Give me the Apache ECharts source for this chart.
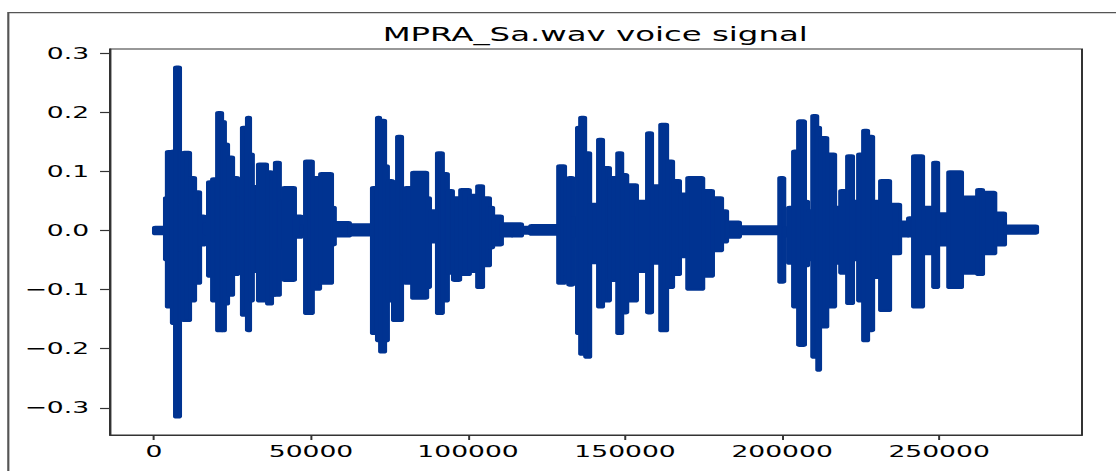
<!DOCTYPE html>
<html><head><meta charset="utf-8">
<script src="https://cdn.jsdelivr.net/npm/echarts@6/dist/echarts.min.js"></script>
<style>
html,body{margin:0;padding:0;background:#fff;overflow:hidden;width:1116px;height:471px}
#chart{width:672px;height:471px;transform:scaleX(1.660714);transform-origin:0 0;}
</style></head><body><div id="chart"></div>
<script>
const chartTitle = 'MPRA_Sa.wav voice signal';
const xTicks = [0, 50000, 100000, 150000, 200000, 250000];
const yTicks = [-0.3, -0.2, -0.1, 0, 0.1, 0.2, 0.3];
// envelope segment boundaries (sample index)
const bounds = [0,3500,4100,5700,6700,8300,9200,11500,13100,14700,16200,17200,18500,20100,21700,22600,23600,25200,26800,28000,29600,30600,31500,33100,36000,37600,38500,40100,41100,44900,47100,48100,50600,52900,56700,57600,62400,69400,71000,72000,73600,74500,76100,77400,79000,79900,82200,87000,87900,90100,92000,93600,95200,97500,100600,102900,104800,107000,108000,110800,114000,117200,119800,128700,130900,131900,133500,134700,135700,137300,138900,141400,143000,145200,147500,149100,150700,153800,157000,158600,161200,163400,165300,167500,169800,174900,178000,180900,182500,186600,199100,200700,201900,203500,205100,207300,208300,209600,211200,212100,214400,216900,218500,220700,222600,224200,225800,227400,229000,231200,234400,237600,240100,241700,244900,248100,249700,252900,257300,262100,264000,267900,271000,281200];
// upper envelope (max amplitude) per segment
const upper = [0.006,0.056,0.134,0.135,0.277,0.045,0.133,0.09,0.066,0.025,0.012,0.083,0.088,0.2,0.185,0.147,0.125,0.09,0.056,0.175,0.192,0.13,0.075,0.113,0.1,0.085,0.116,0.05,0.073,0.025,0.008,0.118,0.09,0.097,0.04,0.014,0.01,0.073,0.192,0.187,0.11,0.085,0.083,0.16,0.034,0.073,0.099,0.056,0.034,0.132,0.097,0.068,0.056,0.07,0.06,0.076,0.056,0.04,0.025,0.012,0.012,0.006,0.009,0.11,0.085,0.09,0.022,0.175,0.192,0.132,0.045,0.155,0.107,0.09,0.132,0.095,0.078,0.05,0.166,0.076,0.18,0.118,0.085,0.062,0.09,0.068,0.056,0.034,0.015,0.007,0.09,0.005,0.04,0.135,0.186,0.05,0.034,0.195,0.175,0.158,0.13,0.04,0.068,0.127,0.05,0.13,0.17,0.16,0.05,0.085,0.045,0.015,0.022,0.127,0.04,0.116,0.029,0.1,0.057,0.07,0.065,0.03,0.008];
// lower envelope (min amplitude) per segment
const lower = [-0.006,-0.05,-0.13,-0.158,-0.316,-0.034,-0.153,-0.12,-0.09,-0.025,-0.006,-0.078,-0.12,-0.17,-0.17,-0.125,-0.11,-0.075,-0.07,-0.144,-0.17,-0.12,-0.07,-0.12,-0.125,-0.11,-0.11,-0.03,-0.085,-0.012,-0.006,-0.141,-0.1,-0.09,-0.025,-0.01,-0.008,-0.175,-0.187,-0.206,-0.187,-0.12,-0.153,-0.153,-0.04,-0.09,-0.115,-0.097,-0.02,-0.141,-0.12,-0.073,-0.085,-0.075,-0.07,-0.097,-0.06,-0.03,-0.025,-0.01,-0.01,-0.005,-0.007,-0.09,-0.075,-0.093,-0.01,-0.175,-0.21,-0.215,-0.055,-0.13,-0.12,-0.085,-0.175,-0.14,-0.12,-0.07,-0.14,-0.056,-0.17,-0.097,-0.075,-0.045,-0.1,-0.078,-0.035,-0.02,-0.012,-0.006,-0.088,-0.01,-0.056,-0.13,-0.195,-0.06,-0.05,-0.215,-0.237,-0.164,-0.13,-0.056,-0.073,-0.124,-0.05,-0.12,-0.187,-0.17,-0.08,-0.136,-0.04,-0.01,-0.01,-0.13,-0.04,-0.097,-0.025,-0.097,-0.073,-0.075,-0.04,-0.025,-0.005];

const segData = upper.map((u, i) => [bounds[i], bounds[i + 1], u, lower[i]]);
const color = '#003391';
const font = 'DejaVu Sans';
const chart = echarts.init(document.getElementById('chart'), null, {renderer: 'svg'});
chart.setOption({
  animation: false,
  backgroundColor: '#fff',
  title: {
    text: chartTitle, left: 358.4, top: 24.5, textAlign: 'center', padding: 0,
    textStyle: {fontFamily: font, fontSize: 19.5, fontWeight: 'normal', color: '#000'}
  },
  graphic: [{
    type: 'rect', silent: true, z: -1,
    shape: {x: 5, y: 12.7, width: 1000, height: 1000},
    style: {fill: 'none', stroke: '#555', lineWidth: 1.3}
  }],
  grid: {left: 66.24, right: 20.47, top: 49, bottom: 36, show: true, borderColor: '#333', borderWidth: 1.2, backgroundColor: 'transparent'},
  xAxis: {
    type: 'value', min: -14000, max: 295500,
    splitLine: {show: false},
    axisLine: {show: true, onZero: false, lineStyle: {color: '#333', width: 1.2}},
    axisTick: {show: true, length: 5, customValues: xTicks, lineStyle: {color: '#333', width: 1.2}},
    axisLabel: {customValues: xTicks, margin: 9, fontFamily: font, fontSize: 16, color: '#000', formatter: v => String(v)}
  },
  yAxis: {
    type: 'value', min: -0.346, max: 0.307,
    splitLine: {show: false},
    axisLine: {show: true, onZero: false, lineStyle: {color: '#333', width: 1.2}},
    axisTick: {show: true, length: 6, customValues: yTicks, lineStyle: {color: '#333', width: 1.2}},
    axisLabel: {customValues: yTicks, margin: 12.6, fontFamily: font, fontSize: 16, color: '#000',
      formatter: v => (Math.abs(v) < 1e-9 ? '0.0' : v.toFixed(1).replace('-', '\u2212'))}
  },
  series: [{
    type: 'custom', silent: true, animation: false,
    data: segData,
    encode: {x: [0, 1], y: [2, 3]},
    renderItem: function (params, api) {
      const p1 = api.coord([api.value(0), api.value(2)]);
      const p2 = api.coord([api.value(1), api.value(3)]);
      return {
        type: 'rect',
        shape: {x: p1[0], y: p1[1], width: p2[0] - p1[0], height: p2[1] - p1[1], r: 0.8},
        style: {fill: color, stroke: color, lineWidth: 2.4, lineJoin: 'round'}
      };
    }
  }]
});
</script></body></html>
